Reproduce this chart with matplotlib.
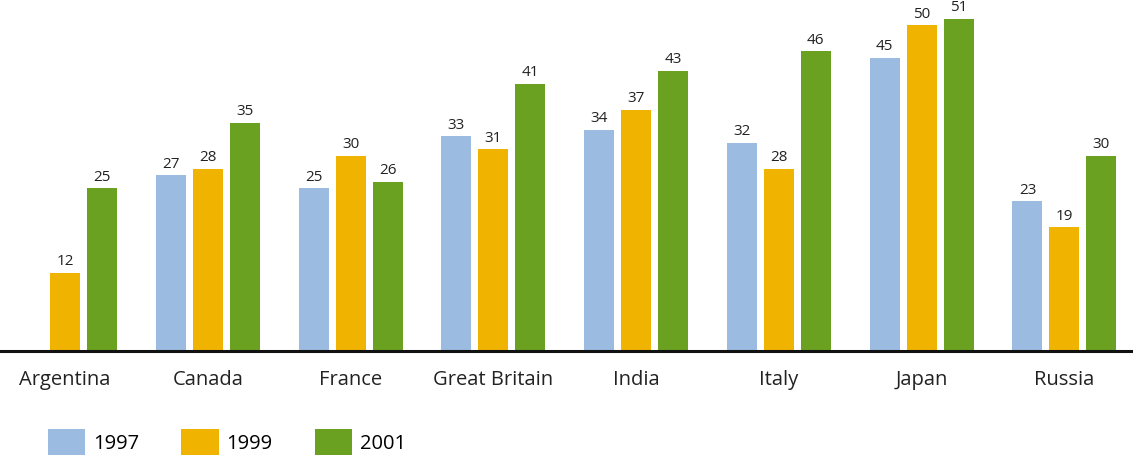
import matplotlib
matplotlib.use("Agg")
import matplotlib.pyplot as plt
import numpy as np
from matplotlib.patches import Patch

countries = ["Argentina", "Canada", "France", "Great Britain", "India", "Italy", "Japan", "Russia"]
years = ["1997", "1999", "2001"]
v1997 = [None, 27, 25, 33, 34, 32, 45, 23]
v1999 = [12, 28, 30, 31, 37, 28, 50, 19]
v2001 = [25, 35, 26, 41, 43, 46, 51, 30]
colors = ["#9BBBE1", "#F0B400", "#6AA121"]

plt.rcParams['font.family'] = ['Open Sans', 'DejaVu Sans']

fig = plt.figure(figsize=(11.33, 4.57), dpi=100)
ax = fig.add_axes([0, 1 - 351 / 457, 1, 351 / 457])

x = np.arange(len(countries))
width = 0.21
offset = 0.259
for i, (vals, c) in enumerate(zip([v1997, v1999, v2001], colors)):
    pos = x + (i - 1) * offset
    for p, v in zip(pos, vals):
        if v is None:
            continue
        ax.bar(p, v, width=width, color=c, zorder=2)
        ax.text(p, v + 0.55, str(v), ha='center', va='bottom', fontsize=11,
                color='#222222', clip_on=False)

ax.set_xlim(-0.455, 7.48)
ax.set_ylim(0, 53.9)
for s in ['top', 'right', 'left']:
    ax.spines[s].set_visible(False)
ax.spines['bottom'].set_linewidth(2.2)
ax.spines['bottom'].set_color('#111111')
ax.set_yticks([])
ax.set_xticks(x)
ax.set_xticklabels(countries, fontsize=14.5, color='#222222')
ax.tick_params(axis='x', length=0, pad=14)

handles = [Patch(facecolor=c, edgecolor='none') for c in colors]
fig.legend(handles, years, loc='center left', bbox_to_anchor=(0.042, 1 - 442 / 457),
           ncol=3, frameon=False, fontsize=14.5, handlelength=1.85, handleheight=1.6,
           handletextpad=0.4, columnspacing=2.1, borderaxespad=0, borderpad=0)

fig.savefig("out.png", dpi=100)
